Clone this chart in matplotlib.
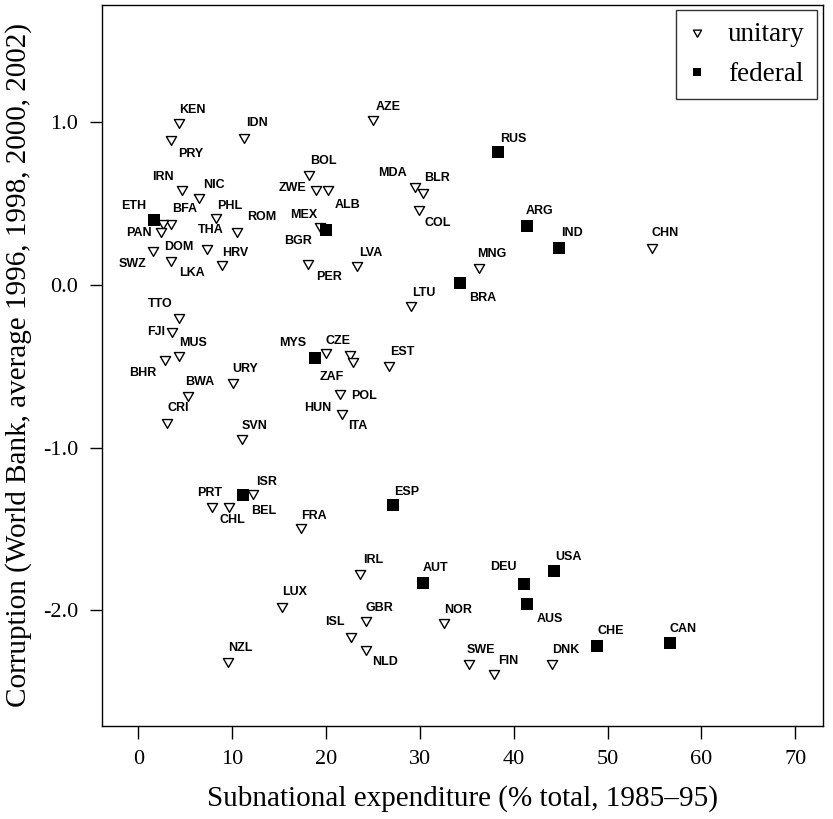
import numpy as np
import matplotlib
matplotlib.use('Agg')
import matplotlib.pyplot as plt
from matplotlib.path import Path

plt.rcParams['font.family'] = 'Liberation Serif'

# unitary countries: code, subnational expenditure, corruption
uni_code = ['KEN', 'PRY', 'IDN', 'AZE', 'BOL', 'IRN', 'NIC', 'ZWE', 'ALB', 'MDA',
            'BLR', 'COL', 'PHL', 'BFA', 'DOM', 'LKA', 'PAN', 'ROM', 'BGR', 'THA',
            'SWZ', 'HRV', 'PER', 'LVA', 'MNG', 'CHN', 'LTU', 'TTO', 'FJI', 'MUS',
            'BHR', 'BWA', 'URY', 'CRI', 'SVN', 'CZE', 'ZAF', 'POL', 'HUN', 'ITA',
            'EST', 'ISR', 'PRT', 'CHL', 'FRA', 'IRL', 'LUX', 'GBR', 'ISL', 'NLD',
            'NZL', 'NOR', 'SWE', 'FIN', 'DNK']
uni_x = [4.3, 3.5, 11.2, 25.0, 18.2, 4.6, 6.5, 18.9, 20.2, 29.5,
         30.3, 29.9, 8.3, 3.5, 2.6, 3.5, 2.4, 10.5, 19.4, 7.3,
         1.55, 8.9, 18.1, 23.3, 36.3, 54.7, 29.05, 4.35, 3.55, 4.35,
         2.85, 5.3, 10.1, 3.0, 11.05, 19.98, 22.55, 22.85, 21.5, 21.7,
         26.7, 12.2, 7.85, 9.65, 17.3, 23.6, 15.3, 24.3, 22.6, 24.3,
         9.55, 32.6, 35.2, 37.9, 44.1]
uni_y = [1.00, 0.90, 0.91, 1.02, 0.68, 0.59, 0.54, 0.59, 0.59, 0.61,
         0.57, 0.465, 0.42, 0.38, 0.38, 0.155, 0.33, 0.33, 0.36, 0.23,
         0.215, 0.13, 0.135, 0.12, 0.11, 0.235, -0.12, -0.195, -0.28, -0.43,
         -0.455, -0.675, -0.595, -0.84, -0.94, -0.41, -0.425, -0.47, -0.665, -0.785,
         -0.49, -1.28, -1.36, -1.36, -1.49, -1.77, -1.97, -2.06, -2.16, -2.24,
         -2.31, -2.07, -2.32, -2.385, -2.32]

# federal countries
fed_code = ['ETH', 'MEX', 'RUS', 'ARG', 'IND', 'BRA', 'MYS', 'BEL', 'ESP', 'AUT',
            'DEU', 'USA', 'AUS', 'CHE', 'CAN']
fed_x = [1.66, 20.0, 38.3, 41.4, 44.8, 34.3, 18.8, 11.15, 27.1, 30.3,
         41.1, 44.3, 41.4, 48.9, 56.7]
fed_y = [0.40, 0.34, 0.82, 0.36, 0.23, 0.01, -0.45, -1.29, -1.35, -1.83,
         -1.84, -1.76, -1.96, -2.22, -2.20]

# label placement, pixel offsets from the point
lab_off = {
    'KEN': (14, 12), 'PRY': (19, -15), 'IDN': (13, 14), 'AZE': (15, 12), 'BOL': (14, 13),
    'IRN': (-19, 12), 'NIC': (14, 12), 'ZWE': (-23, 1), 'ALB': (20, -16), 'MDA': (-23, 13),
    'BLR': (14, 14), 'COL': (19, -14), 'PHL': (13, 11), 'BFA': (13, 14), 'DOM': (16, -24),
    'LKA': (21, -13), 'PAN': (-22, -2), 'ROM': (25, 14), 'BGR': (-22, -15), 'THA': (4, 18),
    'SWZ': (-20, -14), 'HRV': (13, 11), 'PER': (21, -14), 'LVA': (14, 12), 'MNG': (13, 13),
    'CHN': (13, 14), 'LTU': (13, 12), 'TTO': (-19, 13), 'FJI': (-16, -1), 'MUS': (14, 12),
    'BHR': (-22, -14), 'BWA': (12, 13), 'URY': (12, 13), 'CRI': (12, 14), 'SVN': (12, 12),
    'CZE': (12, 11), 'ZAF': (-18, -23), 'POL': (11, -35), 'HUN': (-22, -15), 'ITA': (16, -13),
    'EST': (13, 13), 'ISR': (14, 11), 'PRT': (-2, 13), 'CHL': (3, -14), 'FRA': (13, 11),
    'IRL': (13, 13), 'LUX': (13, 14), 'GBR': (13, 12), 'ISL': (-16, 14), 'NLD': (19, -13),
    'NZL': (12, 13), 'NOR': (14, 12), 'SWE': (12, 13), 'FIN': (14, 12), 'DNK': (13, 13),
    'ETH': (-20, 14), 'MEX': (-22, 15), 'RUS': (15, 13), 'ARG': (13, 15), 'IND': (13, 15),
    'BRA': (22, -15), 'MYS': (-22, 15), 'BEL': (21, -16), 'ESP': (14, 13), 'AUT': (13, 15),
    'DEU': (-21, 17), 'USA': (14, 14), 'AUS': (23, -15), 'CHE': (13, 15), 'CAN': (13, 14),
}

# open triangle pointing down, equilateral like R's pch 6
tri = Path([(-1, 0.577), (1, 0.577), (0, -1.155), (-1, 0.577)], closed=True)

fig = plt.figure(figsize=(8.33, 8.19), dpi=100)
ax = fig.add_axes([0.1225, 0.1136, 0.8649, 0.8803])

ax.plot(uni_x, uni_y, linestyle='none', marker=tri, markersize=8.5, mfc='white',
        mec='black', mew=1.0, label='unitary')
ax.plot(fed_x, fed_y, linestyle='none', marker='s', markersize=8, mfc='black',
        mec='black', mew=0, label='federal')

for codes, xs, ys in [(uni_code, uni_x, uni_y), (fed_code, fed_x, fed_y)]:
    for c, x, y in zip(codes, xs, ys):
        ax.annotate(c, (x, y), xytext=lab_off[c], textcoords='offset pixels',
                    ha='center', va='center', fontsize=9, fontweight='bold',
                    family='Liberation Sans')

ax.set_xlim(-3.88, 72.9)
ax.set_ylim(-2.71, 1.721)
ax.set_xticks(np.arange(0, 71, 10))
ax.set_yticks([-2, -1, 0, 1])
ax.set_yticklabels(['-2.0', '-1.0', '0.0', '1.0'])
ax.tick_params(direction='out', length=9, width=1, labelsize=16, pad=8)
for s in ax.spines.values():
    s.set_linewidth(1)

ax.set_xlabel('Subnational expenditure (% total, 1985–95)', fontsize=21, labelpad=12)
ax.set_ylabel('Corruption (World Bank, average 1996, 1998, 2000, 2002)', fontsize=21, labelpad=8)

leg = ax.legend(loc='upper right', bbox_to_anchor=(0.992, 0.993), borderaxespad=0,
                fontsize=19.5, frameon=True, fancybox=False, edgecolor='black',
                handlelength=0.6, handletextpad=0.85, labelspacing=0.55, borderpad=0.45,
                markerscale=0.8)
leg.get_frame().set_linewidth(1)

plt.savefig('out.png', dpi=100)
